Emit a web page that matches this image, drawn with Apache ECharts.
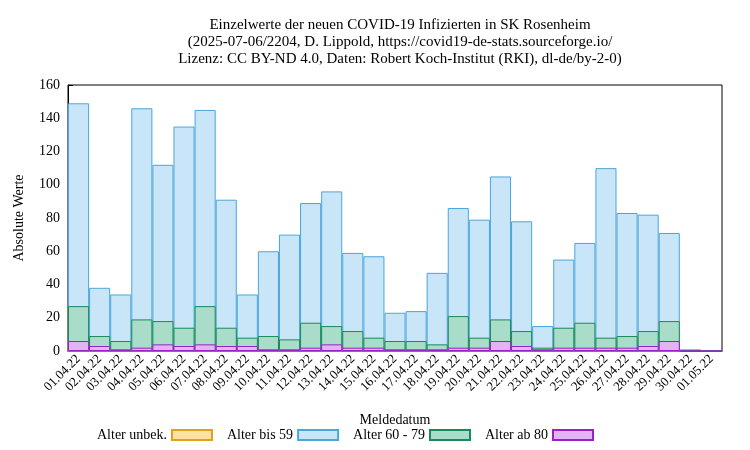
<!DOCTYPE html>
<html><head><meta charset="utf-8">
<script src="https://cdn.jsdelivr.net/npm/echarts@6/dist/echarts.min.js"></script>
<style>body{margin:0;background:#fff}#c{width:750px;height:450px}</style>
</head><body><div id="c"></div>
<script>
var days = ['01.04.22','02.04.22','03.04.22','04.04.22','05.04.22','06.04.22','07.04.22','08.04.22','09.04.22','10.04.22',
  '11.04.22','12.04.22','13.04.22','14.04.22','15.04.22','16.04.22','17.04.22','18.04.22','19.04.22','20.04.22',
  '21.04.22','22.04.22','23.04.22','24.04.22','25.04.22','26.04.22','27.04.22','28.04.22','29.04.22','30.04.22','01.05.22'];
var unbek = [0,0,0,0,0,0,0,0,0,0,0,0,0,0,0,0,0,0,0,0,0,0,0,0,0,0,0,0,0,0,0];
var bis59 = [149,38,34,146,112,135,145,91,34,60,70,89,96,59,57,23,24,47,86,79,105,78,15,55,65,110,83,82,71,1,0];
var a60_79 = [27,9,6,19,18,14,27,14,8,9,7,17,15,12,8,6,6,4,21,8,19,12,2,14,17,8,9,12,18,0,0];
var ab80 = [6,3,1,2,4,3,4,3,3,1,1,2,4,2,2,1,1,1,2,2,6,3,1,2,2,2,2,3,6,0,0];

var font = 'Liberation Serif, serif';
var chart = echarts.init(document.getElementById('c'));
function bar(name, data, fill, border) {
  return {
    name: name, type: 'bar', data: data, barGap: '-100%', barCategoryGap: '0%',
    itemStyle: { color: fill, borderColor: border, borderWidth: 1 }
  };
}
chart.setOption({
  animation: false,
  title: {
    text: 'Einzelwerte der neuen COVID-19 Infizierten in SK Rosenheim\n(2025-07-06/2204, D. Lippold, https://covid19-de-stats.sourceforge.io/\nLizenz: CC BY-ND 4.0, Daten: Robert Koch-Institut (RKI), dl-de/by-2-0)',
    left: 395, textAlign: 'center', top: 12,
    textStyle: { fontFamily: font, fontSize: 15, fontWeight: 'normal', lineHeight: 17, color: '#000' }
  },
  legend: {
    bottom: 3, left: 92, itemGap: 14, itemWidth: 40, itemHeight: 10, icon: 'rect', align: 'right',
    textStyle: { fontFamily: font, fontSize: 14, color: '#000', width: 115 },
    formatter: function (n) { return n; }
  },
  grid: { left: 68, right: 28, top: 85, bottom: 99 },
  xAxis: {
    type: 'category', data: days, name: 'Meldedatum', nameLocation: 'middle', nameGap: 62,
    nameTextStyle: { fontFamily: font, fontSize: 14, color: '#000' },
    axisLine: { lineStyle: { color: '#000' } },
    axisTick: { alignWithLabel: true, inside: true, lineStyle: { color: '#000' } },
    axisLabel: { rotate: 45, interval: 0, fontFamily: font, fontSize: 13, color: '#000', margin: 6 }
  },
  yAxis: {
    type: 'value', min: 0, max: 160, interval: 20, name: 'Absolute Werte', nameLocation: 'middle', nameGap: 42,
    nameTextStyle: { fontFamily: font, fontSize: 14, color: '#000' },
    axisLine: { show: true, lineStyle: { color: '#000' } },
    axisTick: { show: true, inside: true, lineStyle: { color: '#000' } },
    axisLabel: { fontFamily: font, fontSize: 14, color: '#000' },
    splitLine: { show: false }
  },
  series: [
    bar('Alter unbek.', unbek, '#fde2a4', '#e0a020'),
    bar('Alter bis 59', bis59, '#c9e5f8', '#4aa6dc'),
    bar('Alter 60 - 79', a60_79, '#a9dcc9', '#1a8a5a'),
    bar('Alter ab 80', ab80, '#e2b4f2', '#9a20c8')
  ],
  graphic: [{ type: 'rect', shape: { x: 68, y: 85, width: 654, height: 266 }, style: { fill: 'none', stroke: '#000', lineWidth: 1 }, silent: true }]
});
</script></body></html>
